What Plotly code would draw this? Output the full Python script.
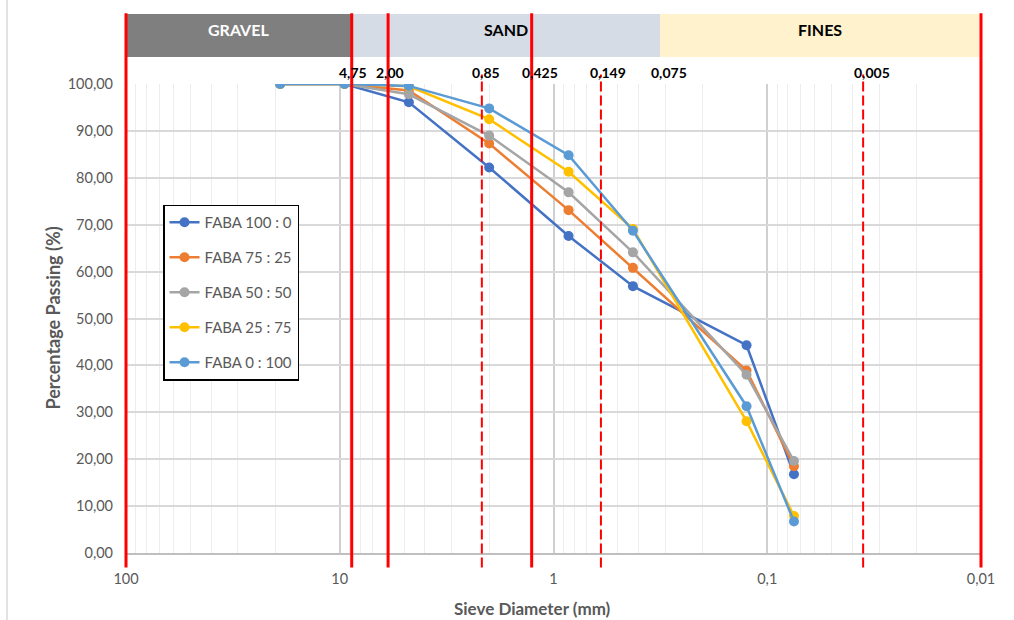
import math
import plotly.graph_objects as go

# Sieve sizes (mm) and percentage passing for each FABA blend
sieve_mm = [19, 9.5, 4.75, 2.0, 0.85, 0.425, 0.125, 0.075]
faba_100_0 = [100, 100, 96.1, 82.2, 67.6, 56.9, 44.3, 16.8]
faba_75_25 = [100, 100, 98.6, 87.3, 73.1, 60.8, 38.9, 18.5]
faba_50_50 = [100, 100, 97.8, 89.0, 76.9, 64.1, 38.0, 19.6]
faba_25_75 = [100, 100, 99.5, 92.5, 81.3, 69.1, 28.1, 7.9]
faba_0_100 = [100, 100, 99.6, 94.8, 84.8, 68.7, 31.3, 6.7]

series_names = ["FABA 100 : 0", "FABA 75 : 25", "FABA 50 : 50", "FABA 25 : 75", "FABA 0 : 100"]
series_values = [faba_100_0, faba_75_25, faba_50_50, faba_25_75, faba_0_100]
series_colors = ["#4472C4", "#ED7D31", "#A5A5A5", "#FFC000", "#5B9BD5"]

# Soil classification zones along the sieve axis (mm)
zone_names = ["GRAVEL", "SAND", "FINES"]
zone_edges_mm = [100, 8.79, 0.317, 0.01]
zone_fill = ["#7F7F7F", "#D6DCE5", "#FFF2CC"]
zone_text_color = ["white", "black", "black"]

# Boundary markers (mm positions on the axis)
solid_marks_mm = [100, 8.79, 5.94, 1.265, 0.01]
dashed_marks_mm = [2.164, 0.600, 0.0356]
boundary_labels = ["4,75", "2,00", "0,85", "0,425", "0,149", "0,075", "0,005"]
boundary_label_mm = [8.71, 5.81, 2.07, 1.154, 0.554, 0.287, 0.0322]

X_MAX, X_MIN = 100, 0.01   # reversed log axis: coarse on the left
FONT = "Lato"
GREY_TEXT = "#595959"


def xdom(mm):
    """Position of a sieve size as a fraction of the x-axis domain."""
    return (math.log10(X_MAX) - math.log10(mm)) / (math.log10(X_MAX) - math.log10(X_MIN))


fig = go.Figure()

for name, vals, col in zip(series_names, series_values, series_colors):
    fig.add_trace(go.Scatter(
        x=sieve_mm, y=vals, name=name, legendgroup=name,
        mode="lines+markers",
        line=dict(color=col, width=2.5),
        marker=dict(color=col, size=10, line=dict(width=0)),
    ))

shapes = []
annotations = []

# Zone header band above the plot
BAND_Y0, BAND_Y1 = 1.0576, 1.149
for i, zname in enumerate(zone_names):
    x0, x1 = xdom(zone_edges_mm[i]), xdom(zone_edges_mm[i + 1])
    if i == len(zone_names) - 1:
        x1 -= 0.002
    shapes.append(dict(type="rect", xref="x domain", yref="paper",
                       x0=x0, x1=x1, y0=BAND_Y0, y1=BAND_Y1,
                       fillcolor=zone_fill[i], line=dict(width=0), layer="above"))
    annotations.append(dict(xref="x domain", yref="paper", x=(x0 + x1) / 2, y=1.117,
                            text="<b>%s</b>" % zname, showarrow=False,
                            font=dict(family=FONT, size=16, color=zone_text_color[i]),
                            xanchor="center", yanchor="middle"))

# Solid and dashed red boundary lines
for mm in solid_marks_mm:
    shapes.append(dict(type="line", xref="x domain", yref="paper",
                       x0=xdom(mm), x1=xdom(mm), y0=-0.031, y1=1.151,
                       line=dict(color="#FF0000", width=3), layer="above"))
for mm in dashed_marks_mm:
    shapes.append(dict(type="line", xref="x domain", yref="paper",
                       x0=xdom(mm), x1=xdom(mm), y0=-0.031, y1=1.02,
                       line=dict(color="#FF0000", width=2, dash="10px,4px"), layer="above"))

for lab, mm in zip(boundary_labels, boundary_label_mm):
    annotations.append(dict(xref="x domain", yref="paper", x=xdom(mm), y=1.0245,
                            text="<b>%s</b>" % lab, showarrow=False,
                            font=dict(family=FONT, size=14, color="black"),
                            xanchor="center", yanchor="middle"))

# Chart-area left border
shapes.append(dict(type="line", xref="paper", yref="paper",
                   x0=-0.1392, x1=-0.1392, y0=-0.16, y1=1.2,
                   line=dict(color="#D9D9D9", width=1.5), layer="below"))

# Axis titles
annotations.append(dict(xref="paper", yref="paper", x=-0.0865, y=0.5,
                        text="<b>Percentage Passing (%)</b>", textangle=-90, showarrow=False,
                        font=dict(family=FONT, size=18, color=GREY_TEXT),
                        xanchor="center", yanchor="middle"))
annotations.append(dict(xref="paper", yref="paper", x=0.476, y=-0.118,
                        text="<b>Sieve Diameter (mm)</b>", showarrow=False,
                        font=dict(family=FONT, size=17, color=GREY_TEXT),
                        xanchor="center", yanchor="middle"))

fig.update_layout(
    width=1014, height=620,
    margin=dict(l=126, r=33, t=84, b=67, pad=0),
    paper_bgcolor="white", plot_bgcolor="white",
    separators=",.",
    font=dict(family=FONT, size=14, color=GREY_TEXT),
    shapes=shapes, annotations=annotations,
    legend=dict(x=0.0433, y=0.743, xanchor="left", yanchor="top",
                bgcolor="white", bordercolor="black", borderwidth=1.5,
                font=dict(family=FONT, size=15, color=GREY_TEXT),
                traceorder="grouped", tracegroupgap=12.5),
    showlegend=True,
)

fig.update_xaxes(
    type="log", range=[math.log10(X_MAX), math.log10(X_MIN)], dtick=1,
    showgrid=True, gridcolor="#D0D0D0", gridwidth=1.5,
    minor=dict(dtick="D1", showgrid=True, gridcolor="#EDEDED", gridwidth=1),
    showline=True, linecolor="#BFBFBF", linewidth=1.5,
    ticks="", ticklabelstandoff=12,
    tickfont=dict(family=FONT, size=14.5, color=GREY_TEXT),
    zeroline=False,
)
fig.update_yaxes(
    range=[0, 100], dtick=10, tickformat=".2f",
    showgrid=True, gridcolor="#D9D9D9", gridwidth=1.5,
    showline=False, zeroline=False,
    ticks="", ticklabelstandoff=12,
    tickfont=dict(family=FONT, size=14.5, color=GREY_TEXT),
)

fig.write_html("out.html")
